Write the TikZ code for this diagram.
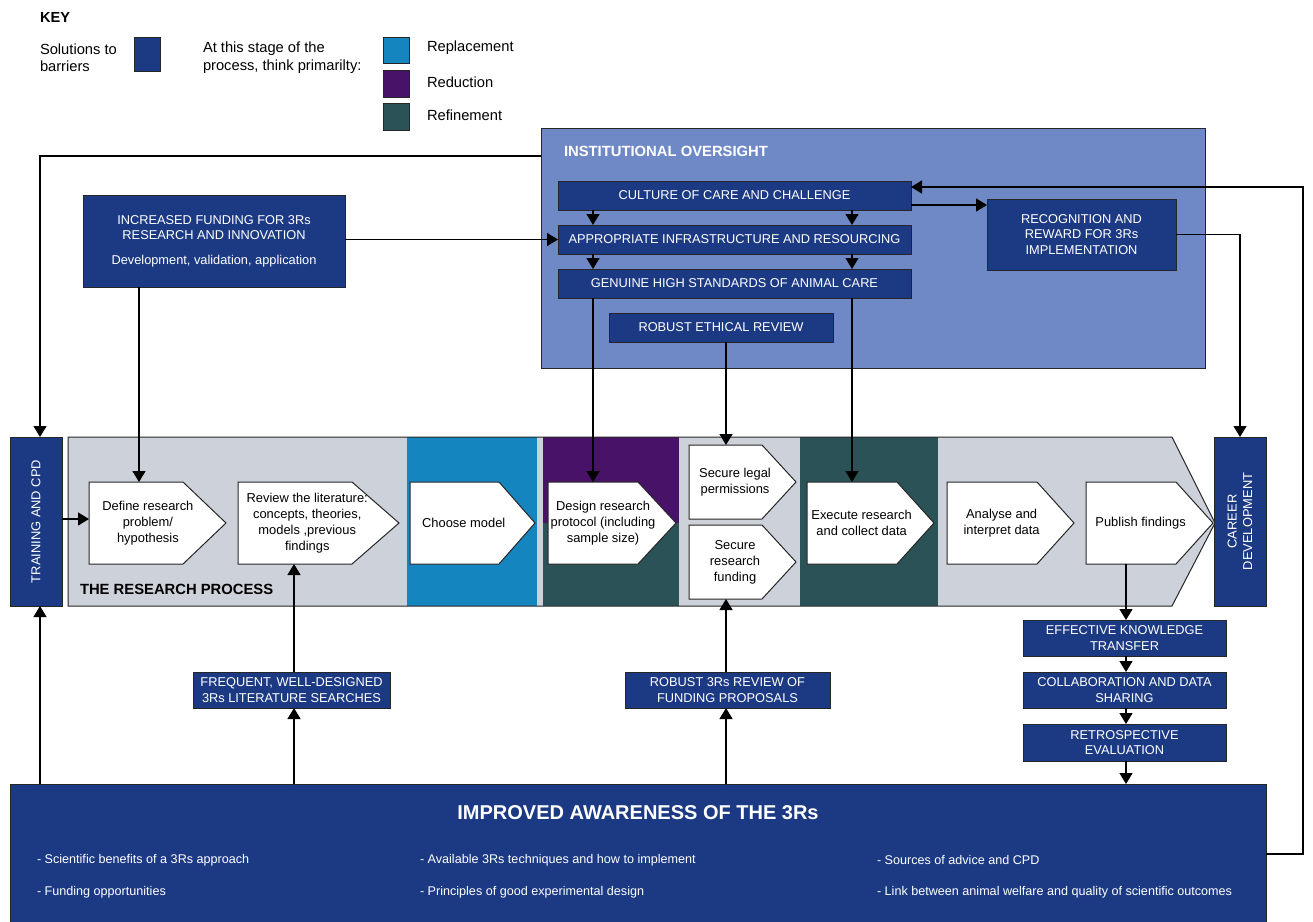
\documentclass[tikz,border=0pt]{standalone}
\usepackage{fontspec}
\setmainfont{Liberation Sans}
\usetikzlibrary{arrows.meta}
\definecolor{dblue}{RGB}{28,58,132}
\definecolor{ioblue}{RGB}{111,137,198}
\definecolor{repl}{RGB}{21,133,191}
\definecolor{redu}{RGB}{72,18,104}
\definecolor{refi}{RGB}{42,82,87}
\definecolor{pgrey}{RGB}{205,210,218}
\newcommand{\fs}[2]{\fontsize{#1}{#2}\selectfont}
\newcommand{\pent}[7]{%
  \draw[penta] (#2,#3) -- (#4,#3) -- (#5,{(#3+#6)/2}) -- (#4,#6) -- (#2,#6) -- cycle;
  \pgfmathsetmacro{\pw}{0.86*(#5-#2)}
  \pgfmathsetmacro{\ph}{#6-#3}
  \node[ptxt, minimum width=\pw pt, minimum height=\ph pt] (#1) at ({#2+0.43*(#5-#2)},{(#3+#6)/2}) {#7};
}
\begin{document}
\begin{tikzpicture}[x=1pt,y=-1pt,
  every node/.style={inner sep=0pt, outer sep=0pt},
  sol/.style={draw=black!85, line width=1pt, fill=dblue, text=white, align=center, font=\fs{12.8}{15.5}},
  arr/.style={-{Triangle[length=11pt,width=13pt]}, line width=1.3pt},
  penta/.style={draw=black!85, line width=1pt, fill=white},
  ptxt/.style={align=center, font=\fs{12.9}{16}},
  keytxt/.style={anchor=west, align=left, font=\fs{14.7}{17.5}},
  keysq/.style={draw=black!85, line width=1pt},
  bul/.style={anchor=west, text=white, font=\fs{12.6}{15}},
  ttl/.style={anchor=west, font=\bfseries\fs{14.8}{17}},
]
\useasboundingbox[fill=white] (0,0) rectangle (1313,921);

% ---------- KEY ----------
\node[anchor=west, font=\bfseries\fs{14.6}{17}] (key) at (40,17) {KEY};
\node[keytxt] (ksol) at (40,57.5) {Solutions to\\barriers};
\node[keysq, fill=dblue, minimum width=26pt, minimum height=34pt] (ksq) at (147,54) {};
\node[keytxt] (kstage) at (203,57.5) {At this stage of the\\process, think primarilty:};
\node[keysq, fill=repl, minimum width=26pt, minimum height=26pt] (ksq1) at (396,50) {};
\node[keysq, fill=redu, minimum width=26pt, minimum height=27pt] (ksq2) at (396,83.5) {};
\node[keysq, fill=refi, minimum width=26pt, minimum height=27pt] (ksq3) at (396,116.5) {};
\node[keytxt] (krep) at (427,48) {Replacement};
\node[keytxt] (kred) at (427,82) {Reduction};
\node[keytxt] (kref) at (427,115) {Refinement};

% ---------- INSTITUTIONAL OVERSIGHT ----------
\node[draw=black!85, line width=1pt, fill=ioblue, minimum width=664pt, minimum height=240pt] (io) at (873,248) {};
\node[ttl, text=white] (iot) at (564,151) {INSTITUTIONAL OVERSIGHT};
\node[sol, minimum width=353pt, minimum height=29pt] (cul) at (734.5,195.5) {CULTURE OF CARE AND CHALLENGE};
\node[sol, minimum width=353pt, minimum height=29pt] (app) at (734.5,239.5) {APPROPRIATE INFRASTRUCTURE AND RESOURCING};
\node[sol, minimum width=353pt, minimum height=29pt] (gen) at (734.5,283.5) {GENUINE HIGH STANDARDS OF ANIMAL CARE};
\node[sol, minimum width=224pt, minimum height=29pt] (eth) at (721,327.5) {ROBUST ETHICAL REVIEW};
\node[sol, minimum width=189pt, minimum height=71pt] (rec) at (1081.5,234.5) {RECOGNITION AND\\REWARD FOR 3Rs\\IMPLEMENTATION};

% ---------- FUNDING ----------
\node[sol, minimum width=262pt, minimum height=92pt] (fund) at (214,241) {INCREASED FUNDING FOR 3Rs\\RESEARCH AND INNOVATION\\[9pt]Development, validation, application};

% ---------- RESEARCH PROCESS ----------
\fill[pgrey] (68,437) -- (1172,437) -- (1215,523) -- (1172,606) -- (68,606) -- cycle;
\fill[repl] (407,437) rectangle (537,606);
\fill[redu] (543,437) rectangle (679,523);
\fill[refi] (543,523) rectangle (679,606);
\fill[refi] (800,437) rectangle (938,606);
\draw[line width=1pt, draw=black!85] (68,437) -- (1172,437) -- (1215,523) -- (1172,606) -- (68,606) -- cycle;
\node[ttl] (rpt) at (80,589) {THE RESEARCH PROCESS};

\pent{def}{89}{482}{183}{226}{564}{Define research\\problem/\\hypothesis}
\pent{rev}{238}{482}{352}{399}{564}{Review the literature:\\concepts, theories,\\models ,previous\\findings}
\pent{cho}{410}{482}{499}{535}{564}{Choose model}
\pent{des}{548}{482}{638}{676}{564}{Design research\\protocol (including\\sample size)}
\pent{leg}{689}{445}{762}{796}{519}{Secure legal\\permissions}
\pent{fun}{689}{525}{762}{796}{599}{Secure\\research\\funding}
\pent{exe}{807}{482}{897}{934}{564}{Execute research\\and collect data}
\pent{ana}{947}{482}{1037}{1074}{564}{Analyse and\\interpret data}
\pent{pub}{1086}{482}{1176}{1213}{564}{Publish findings}

% ---------- SIDE BOXES ----------
\node[sol, minimum width=52pt, minimum height=169pt] (train) at (36,521.5) {};
\node[rotate=90, text=white, font=\fs{12.9}{15.5}] (traint) at (train.center) {TRAINING AND CPD};
\node[sol, minimum width=52pt, minimum height=169pt] (car) at (1240,521.5) {};
\node[rotate=90, text=white, align=center, font=\fs{12.9}{15.5}] (cart) at (car.center) {CAREER\\DEVELOPMENT};

% ---------- LOWER BOXES ----------
\node[sol, minimum width=197pt, minimum height=36pt] (freq) at (291.5,690) {FREQUENT, WELL-DESIGNED\\3Rs LITERATURE SEARCHES};
\node[sol, minimum width=205pt, minimum height=36pt] (rob) at (727.5,690) {ROBUST 3Rs REVIEW OF\\FUNDING PROPOSALS};
\node[sol, minimum width=203pt, minimum height=36pt] (eff) at (1124.5,638) {EFFECTIVE KNOWLEDGE\\TRANSFER};
\node[sol, minimum width=203pt, minimum height=36pt] (col) at (1124.5,690) {COLLABORATION AND DATA\\SHARING};
\node[sol, minimum width=203pt, minimum height=37pt] (ret) at (1124.5,742.5) {RETROSPECTIVE\\EVALUATION};

% ---------- IMPROVED AWARENESS ----------
\node[sol, minimum width=1256pt, minimum height=140pt] (ia) at (638,854) {};
\node[text=white, font=\bfseries\fs{20}{23}] (iat) at (638,813) {IMPROVED AWARENESS OF THE 3Rs};
\node[bul] (b1) at (37,860) {- Scientific benefits of a 3Rs approach};
\node[bul] (b2) at (37,892) {- Funding opportunities};
\node[bul] (b3) at (420,860) {- Available 3Rs techniques and how to implement};
\node[bul] (b4) at (420,892) {- Principles of good experimental design};
\node[bul] (b5) at (877,860) {- Sources of advice and CPD};
\node[bul] (b6) at (877,892) {- Link between animal welfare and quality of scientific outcomes};

% ---------- CONNECTORS ----------
\draw[arr] ([yshift=-28pt]io.north west) -| ([xshift=4pt]train.north);
\draw[arr] (fund.east |- app.west) -- (app.west);
\draw[arr] (139,0 |- fund.south) -- (139,0 |- def.north);
\draw[arr] (train.east |- 0,519) -- (def.west |- 0,519);
\draw[arr] (593,0 |- cul.south) -- (593,0 |- app.north);
\draw[arr] (852,0 |- cul.south) -- (852,0 |- app.north);
\draw[arr] (593,0 |- app.south) -- (593,0 |- gen.north);
\draw[arr] (852,0 |- app.south) -- (852,0 |- gen.north);
\draw[arr] (593,0 |- gen.south) -- (593,0 |- des.north);
\draw[arr] (852,0 |- gen.south) -- (852,0 |- exe.north);
\draw[arr] (726,0 |- eth.south) -- (726,0 |- leg.north);
\draw[arr] ([yshift=5pt]cul.south east) -- ([yshift=5pt]cul.south east -| rec.west);
\draw[arr] (ia.east) -- ++(37,0) |- ([yshift=-6pt]cul.north east);
\draw[arr] (rec.east) -| (car.north);
\draw[arr] (1126,0 |- pub.south) -- (1126,0 |- eff.north);
\draw[arr] (1126,0 |- eff.south) -- (1126,0 |- col.north);
\draw[arr] (1126,0 |- col.south) -- (1126,0 |- ret.north);
\draw[arr] (1126,0 |- ret.south) -- (1126,0 |- ia.north);
\draw[arr] (40,0 |- ia.north) -- (40,0 |- train.south);
\draw[arr] (294,0 |- ia.north) -- (294,0 |- freq.south);
\draw[arr] (294,0 |- freq.north) -- (294,0 |- rev.south);
\draw[arr] (726,0 |- ia.north) -- (726,0 |- rob.south);
\draw[arr] (726,0 |- rob.north) -- (726,0 |- fun.south);
\end{tikzpicture}
\end{document}
